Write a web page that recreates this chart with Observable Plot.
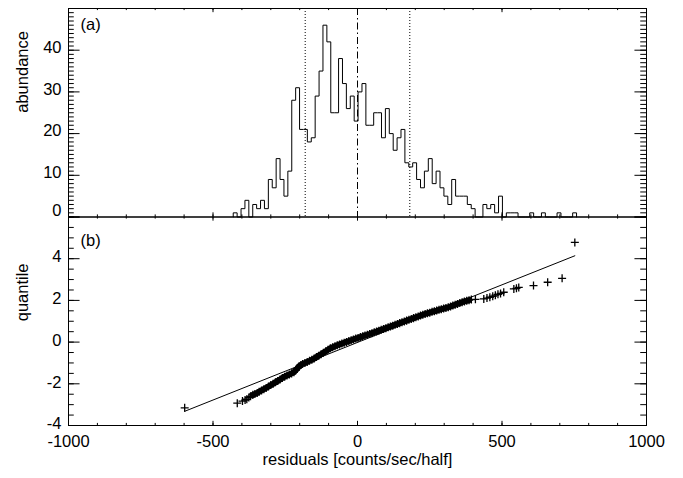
<!DOCTYPE html>
<html><head><meta charset="utf-8">
<script src="https://cdn.jsdelivr.net/npm/d3@7"></script>
<script src="https://cdn.jsdelivr.net/npm/@observablehq/plot@0.6"></script>
<style>
body{margin:0;background:#fff;}
#wrap{position:relative;width:683px;height:478px;}
#wrap svg{position:absolute;left:0;top:0;}
</style></head><body><div id="wrap"></div>
<script>
// ---- panel (a): histogram of residuals ----
const binStart = -430;
const binWidth = 13.5;
const counts = [1,0,2,4,0,3,2,4,2,9,7,14,9,5,11,28,31,21,21,18,19,29,35,46,42,25,25,38,32,26,29,23,
  30,32,22,22,25,25,19,26,20,16,19,21,13,12,13,9,7,11,14,8,11,7,5,3,9,5,5,5,3,2,0,0,3,2,3,1,5,0,1,1,1,
  0,0,0,1,0,0,1,0,0,0,1,0,0,0,1];
const sigmaLines = [-181, 181];
const centerLine = [0];

// ---- panel (b): quantile plot ----
const qqX = [-598,-416,-398,-389,-383,-376,-370,-362,-355,-347,-340,-332,-324,-316,-308,-300,-292,-284,-276,-268,
  -260,-252,-244,-236,-228,-220,-214,-208,-202,-196,-190,-182,-174,-166,-158,-150,-142,-134,-126,-118,-110,-102,
  -94,-86,-78,-70,-62,-54,-46,-38,-30,-22,-14,-6,2,10,18,26,34,42,50,58,66,74,82,90,98,106,114,122,130,138,146,
  154,162,170,178,186,194,202,210,218,226,234,242,250,258,266,274,282,290,298,306,314,322,330,338,346,354,362,370,
  378,386,394,408,437,448,458,468,477,486,495,506,541,550,558,609,658,708,752];
const qqQ = [-3.15,-2.93,-2.83,-2.78,-2.74,-2.66,-2.60,-2.53,-2.49,-2.44,-2.38,-2.32,-2.26,-2.20,-2.13,-2.06,-2.00,-1.93,-1.86,-1.79,
  -1.72,-1.66,-1.60,-1.55,-1.50,-1.44,-1.36,-1.26,-1.16,-1.10,-1.05,-1.00,-0.95,-0.90,-0.85,-0.79,-0.72,-0.65,-0.58,-0.51,-0.44,-0.37,
  -0.30,-0.25,-0.20,-0.15,-0.11,-0.07,-0.03,0.01,0.05,0.09,0.13,0.17,0.20,0.24,0.28,0.32,0.35,0.39,0.43,0.47,0.51,0.55,0.59,0.63,0.67,0.71,0.75,0.79,0.83,0.87,0.91,
  0.95,0.99,1.03,1.07,1.11,1.15,1.19,1.23,1.27,1.31,1.35,1.38,1.41,1.45,1.48,1.51,1.55,1.58,1.61,1.64,1.67,1.71,1.75,1.79,1.83,1.87,1.91,1.95,
  1.98,2.01,2.04,2.05,2.07,2.11,2.15,2.20,2.25,2.29,2.33,2.39,2.55,2.58,2.62,2.71,2.87,3.06,4.78];
const fitX = [-598, 752];
const fitQ = [-3.32, 4.14];
const bandFrom = -370, bandTo = 394;   // extent of the densely packed part of the quantile curve

// ---- axes ----
const xTickLabels = [-1000, -500, 0, 500, 1000];
const yTickLabelsA = [0, 10, 20, 30, 40];
const yTickLabelsB = [-4, -2, 0, 2, 4];
const xMinorStep = 100, yMinorStepA = 1, yMajorStepA = 10, yMinorStepB = 0.5, yMajorStepB = 2;

// layout (pixels)
const W = 683, H = 478, L = 68, R = 646, T = 8, M = 216.5, B = 425;
const FONT = "'Liberation Sans', Arial, Helvetica, sans-serif";
const FS = 16.5;
const pw = R - L;

function boxTicks(ph, yDomain, yMinorStep, yMajorStep) {
  const xMaj = d3.range(-1000, 1000.1, 500);
  const xMin = d3.range(-1000, 1000.1, xMinorStep);
  const yMaj = d3.range(yDomain[0], yDomain[1] + 1e-9, yMajorStep);
  const yMin = d3.range(yDomain[0], yDomain[1] + 1e-9, yMinorStep);
  const xl = 0.02 * ph, yl = 0.02 * pw;
  const s = {stroke: "black", strokeWidth: 1};
  return [
    Plot.tickX(xMaj, {x: d => d, insetTop: ph - xl, ...s}),
    Plot.tickX(xMaj, {x: d => d, insetBottom: ph - xl, ...s}),
    Plot.tickX(xMin, {x: d => d, insetTop: ph - xl / 2, ...s}),
    Plot.tickX(xMin, {x: d => d, insetBottom: ph - xl / 2, ...s}),
    Plot.tickY(yMaj, {y: d => d, insetRight: pw - yl, ...s}),
    Plot.tickY(yMaj, {y: d => d, insetLeft: pw - yl, ...s}),
    Plot.tickY(yMin, {y: d => d, insetRight: pw - yl / 2, ...s}),
    Plot.tickY(yMin, {y: d => d, insetLeft: pw - yl / 2, ...s})
  ];
}

const histPts = [{x: binStart, y: 0}]
  .concat(counts.map((c, i) => ({x: binStart + i * binWidth, y: c})))
  .concat([{x: binStart + counts.length * binWidth, y: 0}]);

const style = {fontFamily: FONT, fontSize: FS + "px", background: "transparent", overflow: "visible"};
const fmt = d => String(d);

const plotA = Plot.plot({
  width: W, height: H,
  marginLeft: L, marginRight: W - R, marginTop: T, marginBottom: H - M,
  style,
  x: {domain: [-1000, 1000], axis: null},
  y: {domain: [0, 50], axis: null},
  marks: [
    Plot.ruleX(sigmaLines, {x: d => d, stroke: "black", strokeDasharray: "1 2"}),
    Plot.ruleX(centerLine, {x: d => d, stroke: "black", strokeDasharray: "7 3 1.5 3"}),
    Plot.line(histPts, {x: "x", y: "y", curve: "step-after", stroke: "black", strokeWidth: 1}),
    ...boxTicks(M - T, [0, 50], yMinorStepA, yMajorStepA),
    Plot.frame({stroke: "black"}),
    Plot.axisY({ticks: yTickLabelsA.filter(d => d > 0), tickSize: 0, tickPadding: 7, tickFormat: fmt, fontSize: FS, dy: -2.5, label: null}),
    Plot.axisY({ticks: yTickLabelsA.filter(d => d === 0), tickSize: 0, tickPadding: 7, tickFormat: fmt, fontSize: FS, dy: -6, label: null}),
    Plot.text(["(a)"], {text: d => d, frameAnchor: "top-left", dx: 12, dy: 10, textAnchor: "start", fontSize: FS}),
    Plot.text(["abundance"], {text: d => d, frameAnchor: "left", dx: -46, rotate: -90, fontSize: FS})
  ]
});

const qq = qqX.map((x, i) => ({x, q: qqQ[i]}));
const band = qq.filter(d => d.x >= bandFrom && d.x <= bandTo);
const fit = fitX.map((x, i) => ({x, q: fitQ[i]}));

const plotB = Plot.plot({
  width: W, height: H,
  marginLeft: L, marginRight: W - R, marginTop: M, marginBottom: H - B,
  style,
  x: {domain: [-1000, 1000], axis: null},
  y: {domain: [-4, 6], axis: null},
  marks: [
    Plot.line(fit, {x: "x", y: "q", stroke: "black", strokeWidth: 1}),
    Plot.line(band, {x: "x", y: "q", stroke: "black", strokeWidth: 6, strokeLinecap: "butt"}),
    Plot.dot(qq, {x: "x", y: "q", symbol: "plus", r: 2.7, stroke: "black", strokeWidth: 1.3}),
    ...boxTicks(B - M, [-4, 6], yMinorStepB, yMajorStepB),
    Plot.frame({stroke: "black"}),
    Plot.axisY({ticks: yTickLabelsB, tickSize: 0, tickPadding: 7, tickFormat: fmt, fontSize: FS, dy: -1.5, label: null}),
    Plot.axisX({ticks: xTickLabels, tickSize: 0, tickPadding: 10, tickFormat: fmt, fontSize: FS, label: null}),
    Plot.text(["(b)"], {text: d => d, frameAnchor: "top-left", dx: 12, dy: 17, textAnchor: "start", fontSize: FS}),
    Plot.text(["quantile"], {text: d => d, frameAnchor: "left", dx: -46, rotate: -90, fontSize: FS}),
    Plot.text(["residuals [counts/sec/half]"], {text: d => d, frameAnchor: "bottom", dy: 39.5, fontSize: FS})
  ]
});

const wrap = document.getElementById("wrap");
wrap.appendChild(plotA);
wrap.appendChild(plotB);
</script></body></html>
